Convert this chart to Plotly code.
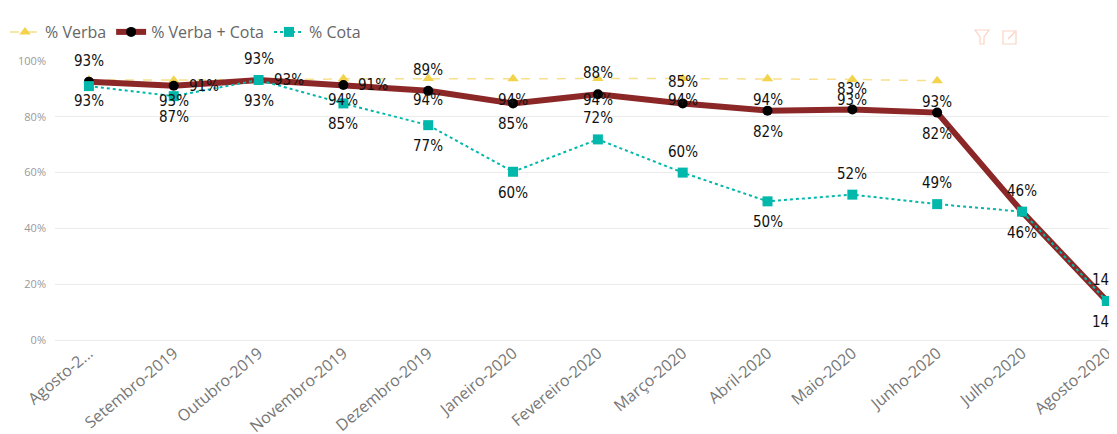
import plotly.graph_objects as go

# ---- data ----
months = ["Agosto-2019", "Setembro-2019", "Outubro-2019", "Novembro-2019", "Dezembro-2019",
          "Janeiro-2020", "Fevereiro-2020", "Março-2020", "Abril-2020", "Maio-2020",
          "Junho-2020", "Julho-2020", "Agosto-2020"]
tick_labels = ["Agosto-2...", "Setembro-2019", "Outubro-2019", "Novembro-2019", "Dezembro-2019",
               "Janeiro-2020", "Fevereiro-2020", "Março-2020", "Abril-2020", "Maio-2020",
               "Junho-2020", "Julho-2020", "Agosto-2020"]
verba = [0.932, 0.931, 0.932, 0.936, 0.937, 0.936, 0.937, 0.937, 0.936, 0.934, 0.929, None, None]
verba_cota = [0.926, 0.911, 0.932, 0.914, 0.893, 0.848, 0.881, 0.848, 0.822, 0.826, 0.815, 0.46, 0.14]
cota = [0.910, 0.874, 0.932, 0.848, 0.770, 0.603, 0.719, 0.600, 0.497, 0.521, 0.487, 0.46, 0.14]

# label placement (style)
pos_verba = ["b", "b", "b", "b", "b", "b", "b", "b", "b", "b", "b", "", ""]
pos_vc = ["a", "r", "a", "r", "a", "b", "a", "a", "b", "a", "b", "a", "a"]
pos_cota = ["", "b", "r", "b", "b", "b", "a", "a", "b", "a", "a", "b", "b"]

C_VERBA = "#F2D34B"
C_VC = "#8B2727"
C_COTA = "#01B8AA"

OFF = 8  # default page body margin
W, H = 1117 - OFF, 434 - OFF
L, R, T, B = 47, 0, 53, 94

fig = go.Figure()
fig.add_trace(go.Scatter(
    x=months, y=verba, name="% Verba", mode="lines+markers",
    line=dict(color="#F8E08A", width=1.5, dash="dash"),
    marker=dict(symbol="triangle-up", size=10, color=C_VERBA),
    cliponaxis=False,
))
fig.add_trace(go.Scatter(
    x=months, y=verba_cota, name="% Verba + Cota", mode="lines+markers",
    line=dict(color=C_VC, width=6),
    marker=dict(symbol="circle", size=10, color="#000000"),
    cliponaxis=False,
))
fig.add_trace(go.Scatter(
    x=months, y=cota, name="% Cota", mode="lines+markers",
    line=dict(color=C_COTA, width=2, dash="dot"),
    marker=dict(symbol="square", size=10, color=C_COTA),
    cliponaxis=False,
))

label_font = dict(family="Liberation Sans Narrow, DejaVu Sans Condensed, Roboto", size=15, color="#111111")
ann = []
for vals, poss in [(verba, pos_verba), (verba_cota, pos_vc), (cota, pos_cota)]:
    for m, v, p in zip(months, vals, poss):
        if v is None or not p:
            continue
        xs, ys = 0, 0
        if p == "a":
            ys = 21
        elif p == "b":
            ys = -21
        elif p == "r":
            xs = 30
        ann.append(dict(x=m, y=v, xref="x", yref="y", text=f"{round(v*100)}%",
                        showarrow=False, xshift=xs, yshift=ys, font=label_font,
                        xanchor="center", yanchor="middle"))

# toolbar icons (decorative), page pixel -> paper
def px(xp):
    return (xp - OFF - L) / (W - L - R)
def py(yp):
    return (H - B - (yp - OFF)) / (H - T - B)

icon_col = "#FAD3C3"
shapes = [
    dict(type="path", xref="paper", yref="paper",
         path=f"M {px(975)} {py(30)} L {px(989)} {py(30)} L {px(984)} {py(37)} L {px(984)} {py(44)} L {px(980)} {py(44)} L {px(980)} {py(37)} Z",
         line=dict(color=icon_col, width=1.2)),
    dict(type="rect", xref="paper", yref="paper", x0=px(1003), x1=px(1016), y0=py(44), y1=py(31),
         line=dict(color=icon_col, width=1.2)),
    dict(type="line", xref="paper", yref="paper", x0=px(1008), x1=px(1015), y0=py(39), y1=py(32),
         line=dict(color=icon_col, width=1.2)),
]

fig.update_layout(
    width=W, height=H,
    margin=dict(l=L, r=R, t=T, b=B, pad=0, autoexpand=False),
    paper_bgcolor="white", plot_bgcolor="white",
    font=dict(family="Open Sans, Noto Sans, sans-serif"),
    showlegend=True,
    legend=dict(orientation="h", x=px(5), xanchor="left", y=py(32), yanchor="middle",
                font=dict(size=16, color="#666666"), itemwidth=30, tracegroupgap=0,
                bgcolor="rgba(0,0,0,0)"),
    annotations=ann,
    shapes=shapes,
    xaxis=dict(type="category", range=[-0.4, 12.12], tickmode="array", tickvals=months,
               ticktext=tick_labels, tickangle=-40, showgrid=False, zeroline=False,
               showline=False, ticks="", automargin=False,
               tickfont=dict(size=16, color="#777777")),
    yaxis=dict(range=[0, 1.0], tickvals=[0, 0.2, 0.4, 0.6, 0.8, 1.0], tickformat=".0%",
               showgrid=True, gridcolor="#EBEBEB", gridwidth=1, zeroline=True,
               zerolinecolor="#EBEBEB", zerolinewidth=1, showline=False, ticks="",
               automargin=False, ticklabelstandoff=8,
               tickfont=dict(size=11, color="#999999")),
)

fig.write_html("out.html")
